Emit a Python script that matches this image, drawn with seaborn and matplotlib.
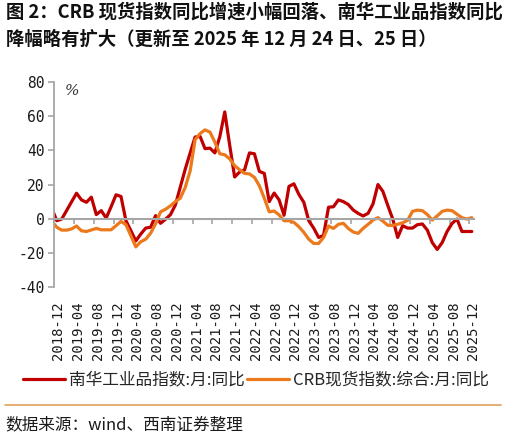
import numpy as np
import pandas as pd
import matplotlib
matplotlib.use("Agg")
import matplotlib.pyplot as plt
from matplotlib.lines import Line2D
import seaborn as sns

# ---------------- data ----------------
months = list(pd.period_range("2018-11", "2025-12", freq="M").strftime("%Y-%m"))

nanhua = [6, -1.2, -0.2, 4.8, 9.9, 14.9, 11, 9.6, 12.6, 2.4,
          4.7, 0.4, 7, 14, 13, -1.2, -7, -13, -9, -5.5,
          -5, 1.8, -2.7, -0.3, 2.3, 8, 18.5, 29, 38.5, 47.8,
          48.2, 41, 41.3, 38.5, 48, 62.5, 43, 24.4, 27.3, 28.5,
          38.5, 38, 27.7, 26.5, 10, 15, 11, 2, 18.9, 20.4,
          14.2, 9.6, -1.2, -5.5, -11, -9.8, 6.7, 7, 11, 10,
          8.3, 5.1, 3.1, 1.6, 3.1, 8.6, 20, 16, 7.7, -0.2,
          -11, -4.1, -5.5, -5.5, -3.5, -3.1, -6.7, -14, -18, -14,
          -7.5, -2.8, -0.2, -7.5, -7.5, -7.5]

crb = [-1.5, -5, -6.7, -6.7, -6, -4.3, -7.1, -7.5, -6.6, -5.7,
       -6.5, -6.5, -6.5, -4.1, -1.6, -3.5, -10, -16.5, -13.5, -12,
       -8.5, -3, 4, 5.5, 7.5, 10, 12, 18.3, 28, 46.2,
       49.8, 52, 50.7, 44.8, 38, 37.4, 35, 31, 28.7, 26.5,
       26.2, 24.2, 19.3, 12, 4, 4.5, 2.2, -1.2, -1.2, -2.2,
       -4.7, -8, -12, -14.5, -14.5, -11, -4.3, -5.7, -3.3, -2.7,
       -5.7, -7.8, -8.6, -5.7, -3.3, -0.8, 0.6, -1.4, -3.9, -3.9,
       -3.3, -2.4, -1, 4.3, 5, 4.7, 2.4, -0.8, 1.6, 4.3,
       5, 4.7, 2.6, 0.6, -0.2, 0.6]

series_names = ["南华工业品指数:月:同比", "CRB现货指数:综合:月:同比"]

tick_labels = ["2018-12", "2019-04", "2019-08", "2019-12", "2020-04", "2020-08",
               "2020-12", "2021-04", "2021-08", "2021-12", "2022-04", "2022-08",
               "2022-12", "2023-04", "2023-08", "2023-12", "2024-04", "2024-08",
               "2024-12", "2025-04", "2025-08", "2025-12"]

y_ticks = [-40, -20, 0, 20, 40, 60, 80]

title_1 = "图 2：CRB 现货指数同比增速小幅回落、南华工业品指数同比"
title_2 = "降幅略有扩大（更新至 2025 年 12 月 24 日、25 日）"
source = "数据来源：wind、西南证券整理"

# ---------------- style ----------------
RED = "#C00000"
ORANGE = "#EC7A1C"
GRAY = "#A6A6A6"

sns.set_theme(style="white")
plt.rcParams["font.family"] = ["Noto Sans CJK SC", "DejaVu Sans"]
plt.rcParams["axes.unicode_minus"] = False

fig = plt.figure(figsize=(5.06, 4.36), dpi=100)
ax = fig.add_axes([0.1073, 0.3417, 0.8300, 0.4702])

df = pd.DataFrame({"month": months,
                   series_names[0]: nanhua,
                   series_names[1]: crb})
df["pos"] = np.arange(len(df)) - 0.5
long = df.melt(id_vars=["month", "pos"], var_name="series", value_name="value")

sns.lineplot(data=long, x="pos", y="value", hue="series",
             hue_order=series_names, palette=[RED, ORANGE],
             linewidth=2.3, ax=ax, legend=False)

ax.set_xlim(0, 85)
ax.set_ylim(-40, 80)
ax.set_xlabel("")
ax.set_ylabel("")

for s in ["top", "right"]:
    ax.spines[s].set_visible(False)
ax.spines["left"].set_color(GRAY)
ax.spines["left"].set_linewidth(1.3)
ax.spines["bottom"].set_color(GRAY)
ax.spines["bottom"].set_linewidth(1.5)
ax.spines["bottom"].set_position(("data", 0))

tick_pos = [months.index(t) - 1 for t in tick_labels]
ax.set_xticks(tick_pos)
ax.tick_params(axis="x", bottom=True, direction="out", length=3.5, width=1.2,
               color=GRAY, labelbottom=False)

ax.set_yticks(y_ticks, labels=[str(v) for v in y_ticks],
              fontfamily="DejaVu Sans Mono", fontsize=10.5, color="#1a1a1a")
ax.tick_params(axis="y", left=True, direction="out", length=4, width=1.2,
               color=GRAY, pad=3)

sec = ax.secondary_xaxis("bottom")
sec.set_xticks([p + 0.8 for p in tick_pos], labels=tick_labels, rotation=90,
               fontfamily="DejaVu Sans Mono", fontsize=10, color="#1a1a1a")
sec.tick_params(length=0, pad=10)
sec.spines["bottom"].set_visible(False)

ax.text(3.7, 75, "%", ha="center", va="center", fontsize=11,
        fontfamily="DejaVu Serif", style="italic", color="#333333")

# legend
handles = [Line2D([], [], color=RED, lw=2.3), Line2D([], [], color=ORANGE, lw=2.3)]
fig.legend(handles, series_names, loc="center", bbox_to_anchor=(0.506, 0.128),
           ncol=2, frameon=False, fontsize=12, handlelength=2.5,
           handletextpad=0.25, columnspacing=0.15, labelcolor="#262626")

# titles and footer
fig.text(0.012, 1 - 3 / 436, title_1, ha="left", va="top", fontsize=13.2,
         fontweight="bold", color="#111111")
fig.text(0.012, 1 - 30 / 436, title_2, ha="left", va="top", fontsize=13.2,
         fontweight="bold", color="#111111")
fig.add_artist(Line2D([5 / 506, 501 / 506], [1 - 405 / 436, 1 - 405 / 436],
                      color="#DFA15A", lw=1.2))
fig.text(5 / 506, 1 - 425 / 436, source, ha="left", va="center", fontsize=12,
         color="#1a1a1a")

fig.savefig("out.png", dpi=100)
